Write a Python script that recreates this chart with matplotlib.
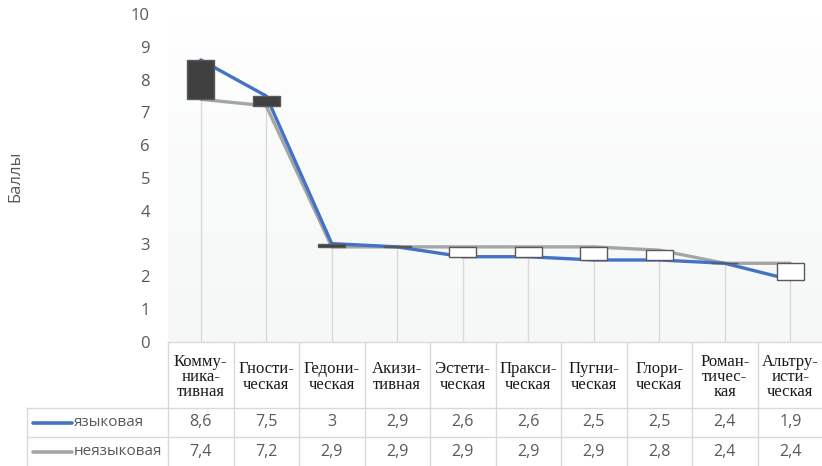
import numpy as np
import matplotlib
matplotlib.use("Agg")
import matplotlib.pyplot as plt
from matplotlib import transforms
from matplotlib.colors import LinearSegmentedColormap

categories = ["Комму-\nника-\nтивная", "Гности-\nческая", "Гедони-\nческая",
              "Акизи-\nтивная", "Эстети-\nческая", "Пракси-\nческая",
              "Пугни-\nческая", "Глори-\nческая", "Роман-\nтичес-\nкая",
              "Альтру-\nисти-\nческая"]
series_names = ["языковая", "неязыковая"]
lang_vals = [8.6, 7.5, 3.0, 2.9, 2.6, 2.6, 2.5, 2.5, 2.4, 1.9]
nonlang_vals = [7.4, 7.2, 2.9, 2.9, 2.9, 2.9, 2.9, 2.8, 2.4, 2.4]
value_labels = [["8,6", "7,5", "3", "2,9", "2,6", "2,6", "2,5", "2,5", "2,4", "1,9"],
                ["7,4", "7,2", "2,9", "2,9", "2,9", "2,9", "2,9", "2,8", "2,4", "2,4"]]
yticks = list(range(0, 11))

BLUE = "#4472C4"
GREY = "#A5A5A5"
TXT = "#595959"
GRID = "#D9D9D9"
SANS = ["Open Sans", "DejaVu Sans"]
SERIF = ["Liberation Serif", "DejaVu Serif"]

W, H = 822, 466
fig = plt.figure(figsize=(W / 100, H / 100), dpi=100)
fig.patch.set_facecolor("white")

# plot area in pixel geometry
left, right, top, bottom = 168, 823, 14, 342
ax = fig.add_axes([left / W, 1 - bottom / H, (right - left) / W, (bottom - top) / H])
n = len(categories)
x = np.arange(n)
ax.set_xlim(-0.5, n - 0.5)
ax.set_ylim(0, 10)

# faint vertical gradient behind the plot
grad = LinearSegmentedColormap.from_list("bg", ["#F6F7F7", "#F9FAFA", "#FFFFFF"])
ax.imshow(np.linspace(0, 1, 256).reshape(-1, 1), cmap=grad, aspect="auto",
          extent=(-0.5, n - 0.5, 0, 10), origin="lower", zorder=0)

for s in ax.spines.values():
    s.set_visible(False)
ax.set_xticks([])
ax.set_yticks(yticks)
ax.tick_params(axis="y", length=0, pad=13, labelcolor=TXT, labelsize=12)
for lab in ax.get_yticklabels():
    lab.set_fontfamily(SANS)

# drop lines
hi = np.maximum(lang_vals, nonlang_vals)
ax.vlines(x, 0, hi, colors=GRID, linewidth=1, zorder=1)

# series lines
ax.plot(x, nonlang_vals, color=GREY, linewidth=2.4, zorder=2, solid_capstyle="round")
ax.plot(x, lang_vals, color=BLUE, linewidth=2.4, zorder=3, solid_capstyle="round")

# up/down bars
bw = 0.41
for xi, a, b in zip(x, lang_vals, nonlang_vals):
    lo, h = min(a, b), abs(a - b)
    fc = "#404040" if a >= b else "white"
    ax.bar(xi, max(h, 0.02), bottom=lo, width=bw, color=fc, edgecolor="#595959",
           linewidth=1.0, zorder=4)

fig.text(15 / W, 1 - 176 / H, "Баллы", rotation=90, ha="center", va="center",
         color=TXT, fontsize=12, family=SANS)

# data table below the plot
ov = fig.add_axes([0, 0, 1, 1], zorder=5)
ov.set_xlim(0, W)
ov.set_ylim(H, 0)
ov.axis("off")
tr = transforms.blended_transform_factory(ax.transData, ov.transData)

hdr_top, row1, row2, tab_bot = 342, 408, 437, 466
leg_left = 27
ov.plot([left, W], [hdr_top, hdr_top], color=GRID, lw=1)
ov.plot([leg_left, W], [row1, row1], color=GRID, lw=1)
ov.plot([leg_left, W], [row2, row2], color=GRID, lw=1)
ov.plot([leg_left, leg_left], [row1, tab_bot], color=GRID, lw=1)
for b in np.arange(-0.5, n, 1.0):
    ov.plot([b, b], [hdr_top, tab_bot], color=GRID, lw=1, transform=tr)

for xi, cat in zip(x, categories):
    ov.text(xi, (hdr_top + row1) / 2 + 2, cat, transform=tr, ha="center", va="center",
            family=SERIF, fontsize=12, color="#1A1A1A", linespacing=0.95)

row_centers = [(row1 + row2) / 2, (row2 + tab_bot) / 2]
for r, (name, col, labels) in enumerate(zip(series_names, [BLUE, GREY], value_labels)):
    yc = row_centers[r]
    ov.plot([33, 72], [yc, yc], color=col, lw=2.6, solid_capstyle="round")
    ov.text(74, yc, name, ha="left", va="center", family=SANS, fontsize=11, color=TXT)
    for xi, lab in zip(x, labels):
        ov.text(xi, yc, lab, transform=tr, ha="center", va="center",
                family=SANS, fontsize=11.5, color=TXT)

fig.savefig("out.png", dpi=100)
